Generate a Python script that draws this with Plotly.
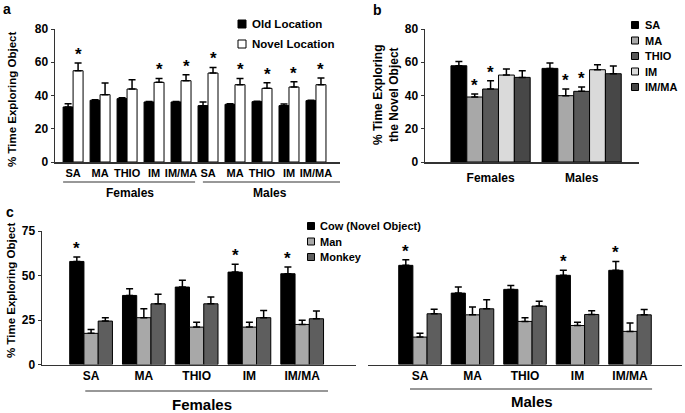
import plotly.graph_objects as go

W, H = 685, 413

# ---------------- data ----------------
drugs = ["SA", "MA", "THIO", "IM", "IM/MA"]
sexes = ["Females", "Males"]

# Panel a (Females SA..IM/MA, then Males SA..IM/MA)
old_loc = [33.1, 37.1, 38.1, 36.1, 36.1, 33.9, 34.7, 36.3, 33.9, 36.9]
old_err = [2.0, 0.3, 0.5, 0.3, 0.3, 2.2, 0.4, 0.3, 1.0, 0.3]
novel_loc = [54.9, 40.5, 43.9, 47.9, 48.9, 53.5, 46.5, 44.3, 45.1, 46.5]
novel_err = [4.6, 7.0, 5.6, 2.4, 3.6, 3.4, 3.8, 3.4, 3.2, 4.0]
novel_sig = [1, 0, 0, 1, 1, 1, 1, 1, 1, 1]
a_series = ["Old Location", "Novel Location"]

# Panel b (per drug: [Females, Males])
b_sa = [57.9, 56.3]
b_ma = [39.1, 39.9]
b_thio = [43.9, 42.5]
b_im = [52.3, 55.5]
b_imma = [50.9, 53.1]
b_sa_err = [2.6, 3.2]
b_ma_err = [1.8, 4.0]
b_thio_err = [5.0, 2.6]
b_im_err = [3.6, 3.0]
b_imma_err = [4.0, 4.6]
b_sig = [0, 1, 1, 0, 0]

# Panel c
c_series = ["Cow (Novel Object)", "Man", "Monkey"]
cow_f = [57.9, 38.8, 43.5, 51.9, 51.0]
cow_f_err = [2.5, 3.8, 3.8, 4.4, 3.8]
man_f = [17.5, 26.3, 21.0, 21.0, 22.5]
man_f_err = [2.2, 5.0, 2.8, 2.8, 2.3]
monkey_f = [24.4, 34.1, 34.1, 26.3, 25.7]
monkey_f_err = [1.9, 5.3, 3.8, 4.1, 4.3]
cow_m = [55.7, 40.1, 42.2, 50.1, 52.9]
cow_m_err = [3.2, 3.4, 2.2, 2.8, 5.0]
man_m = [15.4, 27.9, 24.2, 21.9, 18.6]
man_m_err = [2.2, 4.4, 2.1, 1.9, 4.7]
monkey_m = [28.5, 31.3, 32.8, 28.1, 27.9]
monkey_m_err = [2.6, 5.1, 2.8, 2.1, 3.0]
cow_sig = [1, 0, 0, 1, 1]

# ---------------- style ----------------
FONT = "Arial, Liberation Sans, sans-serif"
a_colors = ["#000000", "#ffffff"]
b_colors = ["#000000", "#a8a8a8", "#595959", "#dadada", "#474747"]
c_colors = ["#000000", "#a8a8a8", "#5e5e5e"]


def px(x):
    return x / W


def py(y):
    return 1 - y / H


fig = go.Figure()
annotations = []
shapes = []


def add_group(xs, series, errs, colors, names, gw, xa, ya):
    n = len(series)
    bw = gw / n
    offs = []
    for k in range(n):
        off = -gw / 2 + k * bw
        offs.append(off + bw / 2)
        fig.add_trace(go.Bar(
            x=xs, y=series[k], name=names[k], width=bw, offset=off,
            marker=dict(color=colors[k], line=dict(color="black", width=1)),
            error_y=dict(type="data", array=errs[k], arrayminus=[0] * len(xs),
                         symmetric=False, color="black", thickness=1.5, width=3.5),
            xaxis=xa, yaxis=ya, showlegend=False, hoverinfo="skip"))
    return offs


def star(x, y, xa, ya):
    annotations.append(dict(x=x, y=y, xref=xa, yref=ya, text="*", showarrow=False,
                            yanchor="bottom", yshift=-3,
                            font=dict(size=17, family=FONT, weight="bold", color="black")))


# Panel a
xa_idx = list(range(len(old_loc)))
offs = add_group(xa_idx, [old_loc, novel_loc], [old_err, novel_err], a_colors, a_series, 0.74, "x", "y")
for i, s in enumerate(novel_sig):
    if s:
        star(i + offs[1], novel_loc[i] + novel_err[i], "x", "y")

# Panel b
xb_idx = list(range(len(sexes)))
b_all = [b_sa, b_ma, b_thio, b_im, b_imma]
b_errs = [b_sa_err, b_ma_err, b_thio_err, b_im_err, b_imma_err]
offs = add_group(xb_idx, b_all, b_errs, b_colors, drugs, 0.87, "x2", "y2")
for k, s in enumerate(b_sig):
    if s:
        for j in xb_idx:
            star(j + offs[k], b_all[k][j] + b_errs[k][j], "x2", "y2")

# Panel c
xc_idx = list(range(len(drugs)))
offs = add_group(xc_idx, [cow_f, man_f, monkey_f], [cow_f_err, man_f_err, monkey_f_err],
                 c_colors, c_series, 0.81, "x3", "y3")
for i, s in enumerate(cow_sig):
    if s:
        star(i + offs[0], cow_f[i] + cow_f_err[i], "x3", "y3")
offs = add_group(xc_idx, [cow_m, man_m, monkey_m], [cow_m_err, man_m_err, monkey_m_err],
                 c_colors, c_series, 0.81, "x4", "y4")
for i, s in enumerate(cow_sig):
    if s:
        star(i + offs[0], cow_m[i] + cow_m_err[i], "x4", "y4")

# ---------------- axes ----------------
tickfont = dict(family=FONT, size=11, weight="bold", color="black")
ytickfont = dict(family=FONT, size=12, weight="bold", color="black")
axline = dict(showline=True, linecolor="#333333", linewidth=1.5, showgrid=False,
              zeroline=False, automargin=False, fixedrange=True)

ya_dom = [py(162), py(29)]
yc_dom = [py(364.5), py(231)]

fig.update_layout(
    width=W, height=H, margin=dict(l=0, r=0, t=0, b=0),
    paper_bgcolor="white", plot_bgcolor="rgba(0,0,0,0)",
    font=dict(family=FONT, weight="bold", color="black"),
    barmode="overlay", showlegend=False, hovermode=False,
    xaxis=dict(domain=[px(55), px(340)], range=[-0.67, 9.89], anchor="y",
               tickmode="array", tickvals=xa_idx, ticktext=drugs * 2, ticks="",
               tickfont=tickfont, **axline),
    yaxis=dict(domain=ya_dom, range=[0, 80], anchor="x", tickvals=[0, 20, 40, 60, 80],
               ticks="outside", ticklen=3, tickcolor="#333333", tickfont=ytickfont, **axline),
    xaxis2=dict(domain=[px(425), px(639)], range=[-0.72, 1.63], anchor="y2",
                tickmode="array", tickvals=xb_idx, ticktext=sexes, ticks="",
                ticklabelstandoff=4,
                tickfont=dict(family=FONT, size=12, weight="bold", color="black"), **axline),
    yaxis2=dict(domain=ya_dom, range=[0, 80], anchor="x2", tickvals=[0, 20, 40, 60, 80],
                ticks="outside", ticklen=3, tickcolor="#333333", tickfont=ytickfont, **axline),
    xaxis3=dict(domain=[px(42), px(356)], range=[-0.93, 5.02], anchor="y3",
                tickmode="array", tickvals=xc_idx, ticktext=drugs, ticks="",
                tickfont=dict(family=FONT, size=12, weight="bold", color="black"), **axline),
    yaxis3=dict(domain=yc_dom, range=[0, 75], anchor="x3", tickvals=[0, 25, 50, 75],
                ticks="outside", ticklen=3, tickcolor="#333333", tickfont=ytickfont, **axline),
    xaxis4=dict(domain=[px(368), px(682)], range=[-0.99, 4.99], anchor="y4",
                tickmode="array", tickvals=xc_idx, ticktext=drugs, ticks="",
                tickfont=dict(family=FONT, size=12, weight="bold", color="black"), **axline),
    yaxis4=dict(domain=yc_dom, range=[0, 75], anchor="x4", visible=False, fixedrange=True),
)


def text(x, y, t, size, xanchor="center", yanchor="middle", angle=0):
    annotations.append(dict(x=px(x), y=py(y), xref="paper", yref="paper", text=t,
                            showarrow=False, xanchor=xanchor, yanchor=yanchor, textangle=angle,
                            font=dict(family=FONT, size=size, weight="bold", color="black")))


def hline(x0, x1, y, xref):
    shapes.append(dict(type="line", xref=xref, yref="paper", x0=x0, x1=x1, y0=py(y), y1=py(y),
                       line=dict(color="#333333", width=1.2)))


def square(cx, cy, color, s=7):
    shapes.append(dict(type="rect", xref="paper", yref="paper",
                       x0=px(cx - s / 2), x1=px(cx + s / 2), y0=py(cy + s / 2), y1=py(cy - s / 2),
                       fillcolor=color, line=dict(color="black", width=1)))


# panel labels
text(7, 9, "a", 14)
text(377, 10, "b", 14)
text(10, 212, "c", 14)

# y titles
text(12, 100, "% Time Exploring Object", 11.5, angle=-90)
text(386, 95, "% Time Exploring<br>the Novel Object", 12, angle=-90)
text(11, 291, "% Time Exploring Object", 11.5, angle=-90)

# panel a group labels
hline(-0.37, 4.52, 182, "x")
hline(4.81, 9.89, 182, "x")
text(130, 193, sexes[0], 12)
text(270, 193, sexes[1], 12)

# panel c group labels
hline(-0.11, 4.49, 391, "x3")
hline(-0.19, 4.42, 389, "x4")
text(202, 404, sexes[0], 15)
text(532, 401, sexes[1], 15)

# legends
for k, name in enumerate(a_series):
    cy = 24 + 20 * k
    square(242, cy, a_colors[k], 8)
    text(250, cy, name, 11.5, xanchor="left")
for k, name in enumerate(drugs):
    cy = 25 + 15.5 * k
    square(635, cy, b_colors[k], 7)
    text(643, cy, name, 11, xanchor="left")
for k, name in enumerate(c_series):
    cy = 226 + 15.5 * k
    square(311, cy, c_colors[k], 7)
    text(318, cy, name, 11, xanchor="left")

fig.update_layout(annotations=annotations, shapes=shapes)
fig.write_html("out.html", config={"displayModeBar": False, "staticPlot": True},
               post_script="document.body.style.margin='0px';document.body.style.padding='0px';")
